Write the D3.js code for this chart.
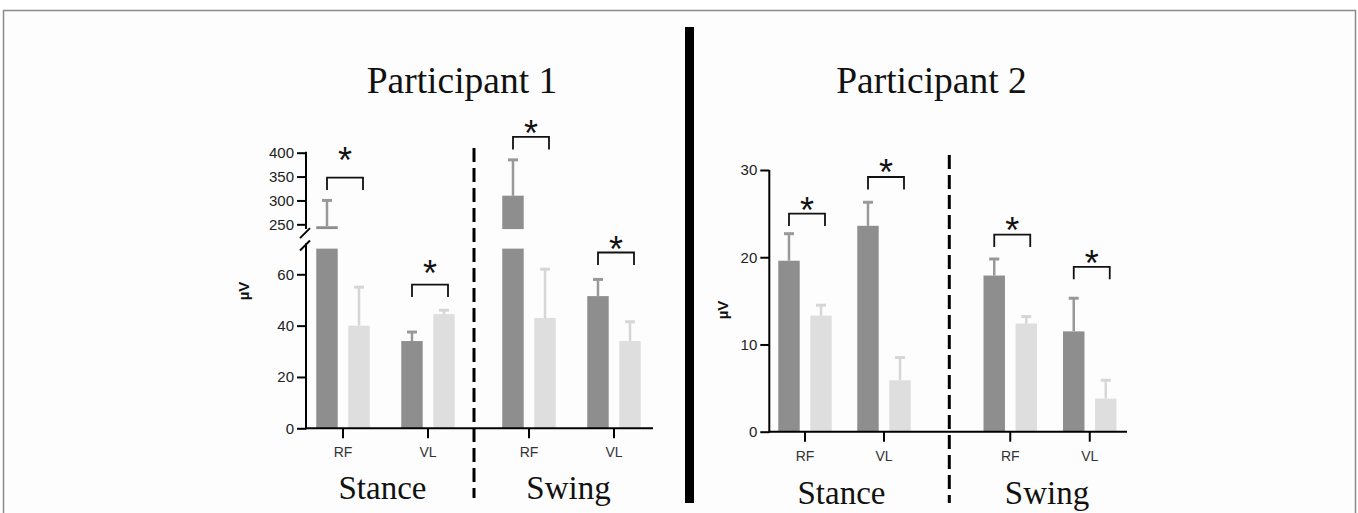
<!DOCTYPE html>
<html>
<head>
<meta charset="utf-8">
<script src="https://cdn.jsdelivr.net/npm/d3@7"></script>
<style>
  body { margin: 0; background: #fff; }
</style>
</head>
<body>
<div id="chart"></div>
<script>

// chart values
var phases = ['Stance', 'Swing'];
var muscles = ['RF', 'VL'];
var conditions = ['A', 'B'];

// order: Stance RF A, Stance RF B, Stance VL A, Stance VL B, Swing RF A, Swing RF B, Swing VL A, Swing VL B
var p1Mean = [246, 40, 34, 44.5, 310, 43, 51.5, 34];
var p1Err = [54, 15, 3.5, 1.5, 75, 19, 6.5, 7.5];
// bracket level for each phase x muscle comparison (Stance RF, Stance VL, Swing RF, Swing VL)
var p1Sig = [348, 56, 433, 68.5];

var p2Mean = [19.6, 13.3, 23.6, 5.9, 17.9, 12.4, 11.5, 3.8];
var p2Err = [3.1, 1.2, 2.7, 2.6, 1.9, 0.8, 3.8, 2.1];
var p2Sig = [25, 29.2, 22.6, 18.9];

var p1LowTicks = [0, 20, 40, 60];
var p1HighTicks = [250, 300, 350, 400];
var p2Ticks = [0, 10, 20, 30];

var width = 1358;
var height = 513;

var colors = { A: '#8e8e8e', B: '#dedede' };
var errColors = { A: '#999999', B: '#d6d6d6' };

var svg = d3.select('#chart').append('svg')
    .attr('width', width)
    .attr('height', height);

// frame
svg.append('rect')
    .attr('x', 3.5)
    .attr('y', 10.5)
    .attr('width', 1352)
    .attr('height', 520)
    .attr('fill', '#fdfdfd')
    .attr('stroke', '#8a8a8a')
    .attr('stroke-width', 1.5);

// thick divider between the two participants
svg.append('line')
    .attr('x1', 689.5).attr('x2', 689.5)
    .attr('y1', 27).attr('y2', 503)
    .attr('stroke', '#000')
    .attr('stroke-width', 9);

function rows(mean, err) {
  var out = [];
  phases.forEach(function(p, i) {
    muscles.forEach(function(m, j) {
      conditions.forEach(function(c, k) {
        var n = i * 4 + j * 2 + k;
        out.push({phase: p, muscle: m, cond: c, mean: mean[n], err: err[n]});
      });
    });
  });
  return out;
}

function sigRows(sig) {
  var out = [];
  phases.forEach(function(p, i) {
    muscles.forEach(function(m, j) {
      out.push({phase: p, muscle: m, level: sig[i * 2 + j]});
    });
  });
  return out;
}

function drawPanel(cfg) {
  var g = svg.append('g');
  var data = rows(cfg.mean, cfg.err);
  var sig = sigRows(cfg.sig);

  // x scales: one band per phase, muscles inside, conditions inside
  var xMuscle = {};
  phases.forEach(function(p) {
    xMuscle[p] = d3.scaleBand().domain(muscles).range(cfg.phaseRange[p]);
  });
  var xCond = d3.scaleBand().domain(conditions).range([-26.75, 26.75]).paddingInner(0.33);
  function cx(phase, muscle) {
    return xMuscle[phase](muscle) + xMuscle[phase].bandwidth() / 2;
  }

  var y = cfg.y;
  var axisX = cfg.axisX;
  var y0 = cfg.yLow(0);

  // bars
  g.selectAll('rect.bar')
      .data(data)
    .enter().append('rect')
      .attr('class', 'bar')
      .attr('x', function(d) { return cx(d.phase, d.muscle) + xCond(d.cond); })
      .attr('width', xCond.bandwidth())
      .attr('y', function(d) { return cfg.yLow(Math.min(d.mean, cfg.clip)); })
      .attr('height', function(d) { return y0 - cfg.yLow(Math.min(d.mean, cfg.clip)); })
      .attr('fill', function(d) { return colors[d.cond]; });

  // bar part above the axis break
  if (cfg.yHigh) {
    g.selectAll('rect.barHigh')
        .data(data.filter(function(d) { return d.mean > cfg.clip; }))
      .enter().append('rect')
        .attr('class', 'barHigh')
        .attr('x', function(d) { return cx(d.phase, d.muscle) + xCond(d.cond); })
        .attr('width', xCond.bandwidth())
        .attr('y', function(d) { return cfg.yHigh(d.mean); })
        .attr('height', function(d) { return cfg.yHigh(cfg.yHigh.domain()[0]) - cfg.yHigh(d.mean); })
        .attr('fill', function(d) { return colors[d.cond]; });
  }

  // error bars (upper only) with caps
  var eb = g.selectAll('g.err')
      .data(data)
    .enter().append('g')
      .attr('class', 'err')
      .attr('stroke', function(d) { return errColors[d.cond]; });
  eb.append('line')
      .attr('x1', function(d) { return cx(d.phase, d.muscle) + xCond(d.cond) + xCond.bandwidth() / 2; })
      .attr('x2', function(d) { return cx(d.phase, d.muscle) + xCond(d.cond) + xCond.bandwidth() / 2; })
      .attr('y1', function(d) { return y(d.mean); })
      .attr('y2', function(d) { return y(d.mean + d.err); })
      .attr('stroke-width', 2.5);
  eb.append('line')
      .attr('x1', function(d) { return cx(d.phase, d.muscle) + xCond(d.cond) + xCond.bandwidth() / 2 - 5; })
      .attr('x2', function(d) { return cx(d.phase, d.muscle) + xCond(d.cond) + xCond.bandwidth() / 2 + 5; })
      .attr('y1', function(d) { return y(d.mean + d.err); })
      .attr('y2', function(d) { return y(d.mean + d.err); })
      .attr('stroke-width', 3);

  // significance brackets
  g.selectAll('path.bracket')
      .data(sig)
    .enter().append('path')
      .attr('class', 'bracket')
      .attr('d', function(d) {
        var x1 = cx(d.phase, d.muscle) - 16;
        var x2 = cx(d.phase, d.muscle) + 20;
        var yt = y(d.level);
        return 'M' + x1 + ',' + (yt + 12.5) + 'V' + yt + 'H' + x2 + 'V' + (yt + 12.5);
      })
      .attr('fill', 'none')
      .attr('stroke', '#111')
      .attr('stroke-width', 1.8);

  g.selectAll('text.star')
      .data(sig)
    .enter().append('text')
      .attr('class', 'star')
      .attr('x', function(d) { return cx(d.phase, d.muscle) + 2; })
      .attr('y', function(d, i) { return y(d.level) - cfg.starGap[i] + 20.5; })
      .attr('text-anchor', 'middle')
      .attr('font-family', 'Liberation Sans, Arial, sans-serif')
      .attr('font-size', '36px')
      .attr('fill', '#111')
      .text('*');

  // y axis
  var lowAxis = d3.axisLeft(cfg.yLow).tickValues(cfg.lowTicks).tickSize(9).tickPadding(3);
  var ga = g.append('g')
      .attr('transform', 'translate(' + axisX + ',0)')
      .call(lowAxis);
  if (cfg.yHigh) {
    var highAxis = d3.axisLeft(cfg.yHigh).tickValues(cfg.highTicks).tickSize(9).tickPadding(3);
    var gh = g.append('g')
        .attr('transform', 'translate(' + axisX + ',0)')
        .call(highAxis);
    styleAxis(gh);
    gh.select('.domain').remove();
    g.append('line')
        .attr('x1', axisX).attr('x2', axisX)
        .attr('y1', cfg.yHigh.range()[1] - 1).attr('y2', cfg.yHigh.range()[0])
        .attr('stroke', '#000').attr('stroke-width', 2);
    // break marks
    [cfg.yHigh.range()[0] + 4, cfg.yLow.range()[1] + 2].forEach(function(yy) {
      g.append('line')
          .attr('x1', axisX - 6).attr('y1', yy + 5)
          .attr('x2', axisX + 4).attr('y2', yy - 5)
          .attr('stroke', '#000').attr('stroke-width', 2);
    });
  }
  styleAxis(ga);
  ga.select('.domain').remove();
  g.append('line')
      .attr('x1', axisX).attr('x2', axisX)
      .attr('y1', cfg.yLow.range()[1]).attr('y2', y0 + 1)
      .attr('stroke', '#000').attr('stroke-width', 2);

  // x axis line and muscle ticks
  g.append('line')
      .attr('x1', axisX).attr('x2', cfg.xEnd)
      .attr('y1', y0).attr('y2', y0)
      .attr('stroke', '#000').attr('stroke-width', 2);
  phases.forEach(function(p) {
    var gx = g.append('g')
        .attr('transform', 'translate(0,' + y0 + ')')
        .call(d3.axisBottom(xMuscle[p]).tickSize(10).tickPadding(9));
    gx.select('.domain').remove();
    styleAxis(gx);
    gx.selectAll('text').attr('fill', '#333').attr('font-size', '14px');

    // phase name under each group
    var r = cfg.phaseRange[p];
    g.append('text')
        .attr('x', (r[0] + r[1]) / 2 - 3)
        .attr('y', cfg.phaseY)
        .attr('text-anchor', 'middle')
        .attr('font-family', 'Liberation Serif, Times New Roman, serif')
        .attr('font-size', '33px')
        .attr('fill', '#111')
        .text(p);
  });

  // dashed separator between stance and swing
  g.append('line')
      .attr('x1', cfg.dashX).attr('x2', cfg.dashX)
      .attr('y1', cfg.dashY[0]).attr('y2', cfg.dashY[1])
      .attr('stroke', '#000')
      .attr('stroke-width', 3)
      .attr('stroke-dasharray', '14,6');

  // unit label
  g.append('text')
      .attr('transform', 'translate(' + cfg.unitPos[0] + ',' + cfg.unitPos[1] + ') rotate(-90)')
      .attr('text-anchor', 'middle')
      .attr('font-family', 'Liberation Sans, Arial, sans-serif')
      .attr('font-weight', 'bold')
      .attr('font-size', '15px')
      .attr('fill', '#111')
      .text('\u00b5V');

  // title
  g.append('text')
      .attr('x', cfg.titleX)
      .attr('y', 93)
      .attr('text-anchor', 'middle')
      .attr('font-family', 'Liberation Serif, Times New Roman, serif')
      .attr('font-size', '37.5px')
      .attr('fill', '#111')
      .text(cfg.title);
}

function styleAxis(sel) {
  sel.selectAll('line').attr('stroke', '#000').attr('stroke-width', 2);
  sel.selectAll('text')
      .attr('font-family', 'Liberation Sans, Arial, sans-serif')
      .attr('font-size', '15px')
      .attr('fill', '#222');
}

// participant 1: broken y axis
var p1Low = d3.scaleLinear().domain([0, 72]).range([428.3, 243.5]);
var p1High = d3.scaleLinear().domain([240, 400]).range([229.1, 152.7]);
function p1Y(v) { return v > 100 ? p1High(v) : p1Low(Math.min(v, 70)); }

drawPanel({
  title: 'Participant 1',
  titleX: 462,
  mean: p1Mean, err: p1Err, sig: p1Sig,
  y: p1Y, yLow: p1Low, yHigh: p1High, clip: 70,
  lowTicks: p1LowTicks, highTicks: p1HighTicks,
  axisX: 306, xEnd: 653,
  phaseRange: { Stance: [300.5, 470.5], Swing: [486.5, 656.5] },
  starGap: [25, 19, 11, 11],
  dashX: 474, dashY: [148, 498],
  phaseY: 499,
  unitPos: [249, 291]
});

// participant 2
var p2Y = d3.scaleLinear().domain([0, 30]).range([431.7, 170]);

drawPanel({
  title: 'Participant 2',
  titleX: 931.5,
  mean: p2Mean, err: p2Err, sig: p2Sig,
  y: p2Y, yLow: p2Y, yHigh: null, clip: 1e9,
  lowTicks: p2Ticks,
  axisX: 769.3, xEnd: 1127,
  phaseRange: { Stance: [765.5, 923.5], Swing: [970.5, 1129.5] },
  starGap: [11, 12, 12, 11],
  dashX: 949.3, dashY: [155, 503],
  phaseY: 504,
  unitPos: [728, 310]
});

</script>
</body>
</html>
